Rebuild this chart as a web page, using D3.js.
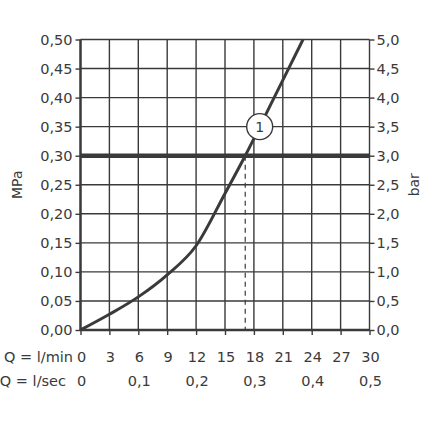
<!DOCTYPE html>
<html>
<head>
<meta charset="utf-8">
<script src="https://cdn.jsdelivr.net/npm/d3@7"></script>
<style>
  html, body { margin: 0; padding: 0; background: #fff; }
  svg text { font-family: "DejaVu Sans", sans-serif; fill: #3a3a3a; }
</style>
</head>
<body>
<svg id="chart" width="424" height="424"></svg>
<script>
// ---- data ----
const flowLmin = [0, 3, 6, 9, 12, 15, 17.1, 20.1, 23.1];
const pressureMPa = [0, 0.027, 0.057, 0.095, 0.145, 0.235, 0.30, 0.40, 0.50];
const xTicksLmin = [0, 3, 6, 9, 12, 15, 18, 21, 24, 27, 30];
const xTicksLsec = [0, 0.1, 0.2, 0.3, 0.4, 0.5];
const yTicksMPa = [0, 0.05, 0.10, 0.15, 0.20, 0.25, 0.30, 0.35, 0.40, 0.45, 0.50];
const yTicksBar = [0, 0.5, 1.0, 1.5, 2.0, 2.5, 3.0, 3.5, 4.0, 4.5, 5.0];
const refPressure = 0.30;      // thick reference line
const refFlow = 17.1;          // dashed drop line
const markerFlow = 18.6;       // circled "1"
const markerPressure = 0.35;
const markerLabel = "1";

const svg = d3.select("#chart");
const ink = "#3a3a3a";

const x = d3.scaleLinear().domain([0, 30]).range([80.5, 369.5]);
const y = d3.scaleLinear().domain([0, 0.5]).range([330, 39.5]);
const yBar = d3.scaleLinear().domain([0, 5]).range([330, 39.5]);
const fmt = (d, p) => d3.format("." + p + "f")(d).replace(".", ",");

// grid
const grid = svg.append("g");
grid.selectAll("line.v").data(xTicksLmin).join("line")
  .attr("x1", d => x(d)).attr("x2", d => x(d))
  .attr("y1", y(0.5)).attr("y2", y(0))
  .attr("stroke", ink).attr("stroke-width", 1.4);
grid.selectAll("line.h").data(yTicksMPa).join("line")
  .attr("x1", x(0)).attr("x2", x(30))
  .attr("y1", d => y(d)).attr("y2", d => y(d))
  .attr("stroke", ink).attr("stroke-width", 1.4);

// axes
const axL = svg.append("g").attr("transform", `translate(${x(0)},0)`)
  .call(d3.axisLeft(y).tickValues(yTicksMPa).tickSize(5).tickPadding(3).tickFormat(d => fmt(d, 2)));
const axR = svg.append("g").attr("transform", `translate(${x(30)},0)`)
  .call(d3.axisRight(yBar).tickValues(yTicksBar).tickSize(5).tickPadding(2).tickFormat(d => fmt(d, 1)));
const axB = svg.append("g").attr("transform", `translate(0,${y(0)})`)
  .call(d3.axisBottom(x).tickValues(xTicksLmin).tickSize(5).tickFormat(""));
[axL, axR, axB].forEach(a => {
  a.select(".domain").remove();
  a.selectAll(".tick line").attr("stroke", ink).attr("stroke-width", 1.4);
  a.selectAll("text").style("font-size", "14.5px").attr("fill", ink);
});

// frame (left and bottom heavier)
svg.append("line").attr("x1", x(0)).attr("x2", x(0)).attr("y1", y(0.5)).attr("y2", y(0) + 1)
  .attr("stroke", ink).attr("stroke-width", 2.4);
svg.append("line").attr("x1", x(0)).attr("x2", x(30)).attr("y1", y(0)).attr("y2", y(0))
  .attr("stroke", ink).attr("stroke-width", 2.4);

// reference pressure line
svg.append("line").attr("x1", x(0)).attr("x2", x(30))
  .attr("y1", y(refPressure)).attr("y2", y(refPressure))
  .attr("stroke", ink).attr("stroke-width", 4.5);

// dashed drop line
svg.append("line").attr("x1", x(refFlow)).attr("x2", x(refFlow))
  .attr("y1", y(refPressure)).attr("y2", y(0))
  .attr("stroke", ink).attr("stroke-width", 1.2).attr("stroke-dasharray", "5,4");

// curve
const pts = flowLmin.map((f, i) => [f, pressureMPa[i]]);
svg.append("path").datum(pts)
  .attr("d", d3.line().x(d => x(d[0])).y(d => y(d[1])).curve(d3.curveMonotoneX))
  .attr("fill", "none").attr("stroke", ink).attr("stroke-width", 3);

// marker
const mk = svg.append("g").attr("transform", `translate(${x(markerFlow)},${y(markerPressure)})`);
mk.append("circle").attr("r", 13).attr("fill", "#fff").attr("stroke", ink).attr("stroke-width", 1.4);
mk.append("text").attr("text-anchor", "middle").attr("dy", "0.36em")
  .style("font-size", "14px").text(markerLabel);

// axis titles
svg.append("text").attr("transform", `translate(22,${(y(0) + y(0.5)) / 2}) rotate(-90)`)
  .attr("text-anchor", "middle").style("font-size", "14px").text("MPa");
svg.append("text").attr("transform", `translate(419,${(y(0) + y(0.5)) / 2}) rotate(-90)`)
  .attr("text-anchor", "middle").style("font-size", "14px").text("bar");

// bottom rows
svg.append("text").attr("x", 73).attr("y", 362).attr("text-anchor", "end")
  .style("font-size", "14.5px").text("Q = l/min");
svg.append("g").selectAll("text").data(xTicksLmin).join("text")
  .attr("x", d => x(d) + 1).attr("y", 362).attr("text-anchor", "middle")
  .style("font-size", "14.5px").text(d => d);
svg.append("text").attr("x", 66).attr("y", 386).attr("text-anchor", "end")
  .style("font-size", "14.5px").text("Q = l/sec");
svg.append("g").selectAll("text").data(xTicksLsec).join("text")
  .attr("x", d => x(d * 60) + 1).attr("y", 386).attr("text-anchor", "middle")
  .style("font-size", "14.5px").text(d => fmt(d, d === 0 ? 0 : 1));
</script>
</body>
</html>
